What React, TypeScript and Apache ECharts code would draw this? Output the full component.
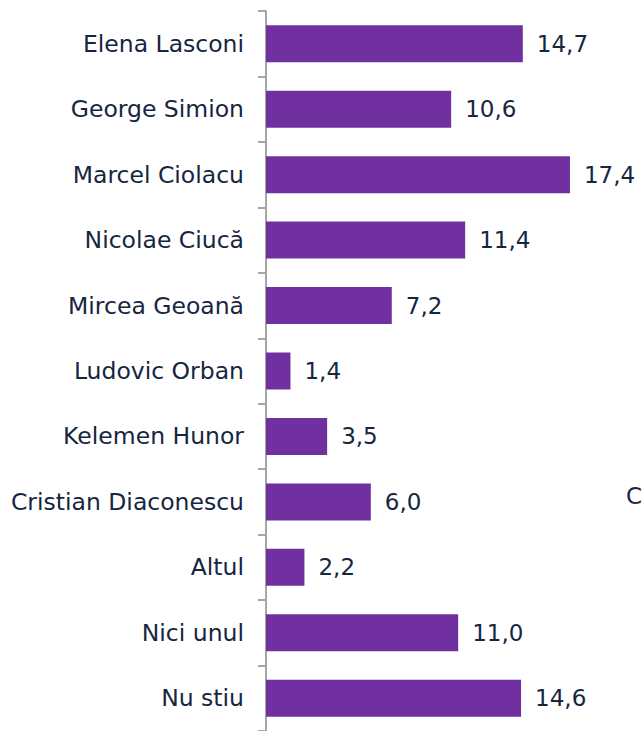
import React, { useEffect, useRef } from "react";
import * as echarts from "echarts";

const categories = [
  "Elena Lasconi",
  "George Simion",
  "Marcel Ciolacu",
  "Nicolae Ciucă",
  "Mircea Geoană",
  "Ludovic Orban",
  "Kelemen Hunor",
  "Cristian Diaconescu",
  "Altul",
  "Nici unul",
  "Nu stiu",
];
const values = [14.7, 10.6, 17.4, 11.4, 7.2, 1.4, 3.5, 6.0, 2.2, 11.0, 14.6];

export default function App() {
  const ref = useRef<HTMLDivElement>(null);
  useEffect(() => {
    const chart = echarts.init(ref.current!, null, { renderer: "svg" });
    const textColor = "#16263f";
    const font = "'DejaVu Sans', sans-serif";
    chart.setOption({
      animation: false,
      grid: { left: 266, top: 11, width: 349.4, height: 723, containLabel: false },
      xAxis: { type: "value", min: 0, max: 20, show: false },
      yAxis: {
        type: "category",
        data: categories,
        inverse: true,
        axisLine: { show: true, lineStyle: { color: "#a6a6a6", width: 2 } },
        axisTick: { show: true, length: 8, lineStyle: { color: "#a6a6a6", width: 2 } },
        axisLabel: { color: textColor, fontSize: 23.5, fontFamily: font, margin: 22 },
        splitLine: { show: false },
      },
      series: [
        {
          type: "bar",
          data: values,
          barWidth: 37,
          itemStyle: { color: "#7030a0" },
          label: {
            show: true,
            position: "right",
            distance: 14,
            color: textColor,
            fontSize: 23,
            fontFamily: font,
            formatter: (p: any) => p.value.toFixed(1).replace(".", ","),
          },
        },
      ],
      graphic: [
        {
          type: "text",
          left: 626,
          top: 484,
          style: { text: "C", fill: textColor, fontSize: 23, fontFamily: font },
        },
      ],
    });
    return () => chart.dispose();
  }, []);
  return (
    <div
      ref={ref}
      style={{ position: "fixed", left: 0, top: 0, width: 642, height: 731, background: "#fff" }}
    />
  );
}
